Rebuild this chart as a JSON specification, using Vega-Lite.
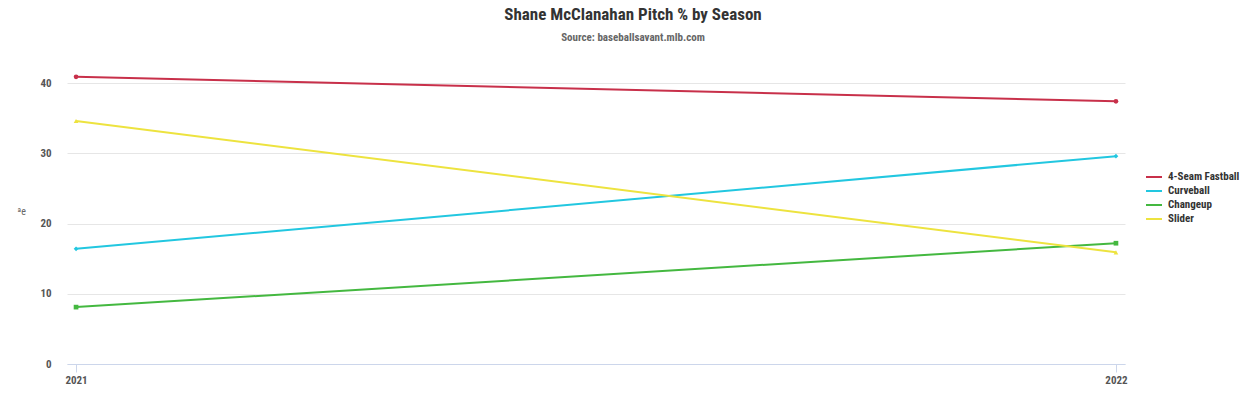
{
  "$schema": "https://vega.github.io/schema/vega-lite/v6.json",
  "autosize": "none",
  "width": 1058,
  "height": 316,
  "padding": {"left": 67, "top": 48, "right": 132, "bottom": 32},
  "background": "white",
  "title": {
    "text": "Shane McClanahan Pitch % by Season",
    "subtitle": "Source: baseballsavant.mlb.com",
    "anchor": "middle",
    "frame": "group",
    "dx": 37,
    "offset": 4,
    "font": "Roboto Condensed, Liberation Sans Narrow, DejaVu Sans Condensed, sans-serif",
    "fontSize": 17,
    "fontWeight": "bold",
    "color": "#333333",
    "subtitleFont": "Roboto Condensed, Liberation Sans Narrow, DejaVu Sans Condensed, sans-serif",
    "subtitleFontSize": 11,
    "subtitleFontWeight": "bold",
    "subtitleColor": "#666666",
    "subtitlePadding": 8
  },
  "config": {
    "view": {"stroke": null},
    "font": "Roboto Condensed, Liberation Sans Narrow, DejaVu Sans Condensed, sans-serif"
  },
  "data": {
    "values": [
      {"season": "2021", "pitch": "4-Seam Fastball", "pct": 40.9},
      {"season": "2022", "pitch": "4-Seam Fastball", "pct": 37.4},
      {"season": "2021", "pitch": "Curveball", "pct": 16.4},
      {"season": "2022", "pitch": "Curveball", "pct": 29.6},
      {"season": "2021", "pitch": "Changeup", "pct": 8.1},
      {"season": "2022", "pitch": "Changeup", "pct": 17.2},
      {"season": "2021", "pitch": "Slider", "pct": 34.6},
      {"season": "2022", "pitch": "Slider", "pct": 15.9}
    ]
  },
  "encoding": {
    "x": {
      "field": "season",
      "type": "ordinal",
      "scale": {"type": "point", "padding": 0.0087},
      "axis": {
        "title": null,
        "labelAngle": 0,
        "labelFontWeight": "bold",
        "labelFontSize": 11,
        "labelColor": "#555555",
        "domainColor": "#ccd6eb",
        "tickColor": "#ccd6eb",
        "tickSize": 8,
        "labelPadding": 2,
        "grid": false
      }
    },
    "y": {
      "field": "pct",
      "type": "quantitative",
      "scale": {"domain": [0, 45], "nice": false},
      "axis": {
        "title": "ªe",
        "titleAngle": 0,
        "titleFontSize": 10,
        "titleFontWeight": "normal",
        "titleColor": "#666666",
        "titleX": -46,
        "titleY": 168,
        "values": [0, 10, 20, 30, 40],
        "domain": false,
        "ticks": false,
        "labelFontWeight": "bold",
        "labelFontSize": 11,
        "labelColor": "#555555",
        "labelPadding": 16,
        "gridColor": "#e6e6e6"
      }
    }
  },
  "layer": [
    {
      "mark": {"type": "line", "strokeWidth": 2},
      "encoding": {
        "color": {
          "field": "pitch",
          "type": "nominal",
          "scale": {
            "domain": ["4-Seam Fastball", "Curveball", "Changeup", "Slider"],
            "range": ["#c8304a", "#22c7e0", "#44b840", "#ede33f"]
          },
          "legend": {
            "title": null,
            "orient": "none",
            "legendX": 1078,
            "legendY": 122,
            "symbolType": "stroke",
            "symbolStrokeWidth": 2,
            "symbolSize": 256,
            "labelFontWeight": "bold",
            "labelFontSize": 11,
            "labelColor": "#333333",
            "rowPadding": 0,
            "clipHeight": 14,
            "labelOffset": 5
          }
        }
      }
    },
    {
      "mark": {"type": "point", "filled": true, "size": 22, "opacity": 1},
      "encoding": {
        "color": {
          "field": "pitch",
          "type": "nominal",
          "scale": {
            "domain": ["4-Seam Fastball", "Curveball", "Changeup", "Slider"],
            "range": ["#c8304a", "#22c7e0", "#44b840", "#ede33f"]
          },
          "legend": null
        },
        "shape": {
          "field": "pitch",
          "type": "nominal",
          "scale": {
            "domain": ["4-Seam Fastball", "Curveball", "Changeup", "Slider"],
            "range": ["circle", "diamond", "square", "triangle-up"]
          },
          "legend": null
        }
      }
    }
  ],
  "resolve": {"legend": {"color": "independent", "shape": "independent"}}
}
